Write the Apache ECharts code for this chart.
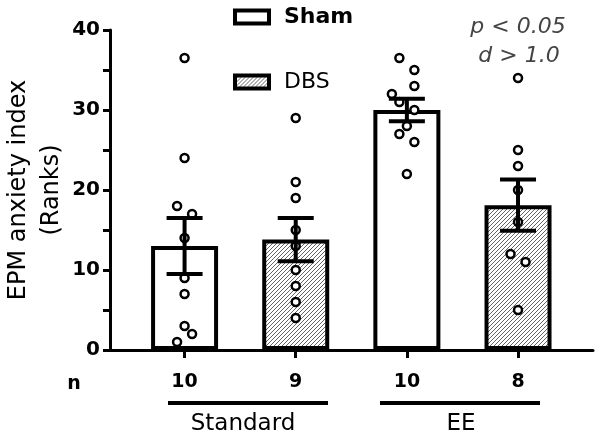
<!DOCTYPE html>
<html>
<head>
<meta charset="utf-8">
<script src="https://cdn.jsdelivr.net/npm/echarts@6/dist/echarts.min.js"></script>
<style>
    html, body { margin: 0; padding: 0; background: #fff; }
    #grafico { width: 600px; height: 439px; }
</style>
</head>
<body>
<div id="grafico"></div>
<script>
// Datos (rangos)
const grupos = ['Standard Sham', 'Standard DBS', 'EE Sham', 'EE DBS'];
const nCount = [10, 9, 10, 8];
const medias = [13.0, 13.8, 30.0, 18.1];
const errores = [3.5, 2.7, 1.4, 3.2];

const puntosStdSham = [36.5, 24, 18, 17, 14, 9, 7, 3, 2, 1];
const puntosStdDBS = [29, 21, 19, 15, 13, 10, 8, 6, 4];
const puntosEESham = [36.5, 35, 33, 32, 31, 30, 28, 27, 26, 22];
const puntosEEDBS = [34, 25, 23, 20, 16, 12, 11, 5];

// desplazamiento horizontal (px) de cada punto, como en el original
const jitterStdSham = [0, 0, -7.5, 7.5, 0, 0, 0, 0, 7.5, -7.5];
const jitterStdDBS = [0, 0, 0, 0, 0, 0, 0, 0, 0];
const jitterEESham = [-7.5, 7.5, 7.5, -15, -7.5, 7.5, 0, -7.5, 7.5, 0];
const jitterEEDBS = [0, 0, 0, 0, 0, -7.5, 7.5, 0];

const ticksY = [0, 10, 20, 30, 40];

const fuente = 'DejaVu Sans';

// Patron de rayas para DBS
function crearRayado() {
    const c = document.createElement('canvas');
    c.width = 4; c.height = 4;
    const ctx = c.getContext('2d');
    ctx.fillStyle = '#fff';
    ctx.fillRect(0, 0, 4, 4);
    ctx.strokeStyle = '#555';
    ctx.lineWidth = 0.9;
    ctx.beginPath();
    ctx.moveTo(-1, 5); ctx.lineTo(5, -1);
    ctx.moveTo(-1, 1); ctx.lineTo(1, -1);
    ctx.moveTo(3, 5); ctx.lineTo(5, 3);
    ctx.stroke();
    return c;
}
const rayado = { image: crearRayado(), repeat: 'repeat' };

const todosPuntos = [puntosStdSham, puntosStdDBS, puntosEESham, puntosEEDBS];
const todosJitter = [jitterStdSham, jitterStdDBS, jitterEESham, jitterEEDBS];
const datosPuntos = [];
todosPuntos.forEach((lista, g) => {
    lista.forEach((v, k) => {
        datosPuntos.push({ value: [g, v], symbolOffset: [todosJitter[g][k], 0] });
    });
});

const chart = echarts.init(document.getElementById('grafico'));
const bordeBarra = { borderColor: '#000', borderWidth: 4 };

const option = {
    animation: false,
    textStyle: { fontFamily: fuente },
    grid: [
        { left: 110, right: 7, top: 30, bottom: 89, outerBoundsMode: 'none', containLabel: false },
        { left: 129, right: 26.4, top: 30, bottom: 89, outerBoundsMode: 'none', containLabel: false }
    ],
    legend: {
        orient: 'vertical',
        left: 233,
        top: 6,
        padding: 0,
        icon: 'rect',
        itemWidth: 34,
        itemHeight: 13,
        itemGap: 43,
        itemStyle: { borderColor: '#000', borderWidth: 4 },
        textStyle: { fontFamily: fuente, fontSize: 22, color: '#000', padding: [0, 0, 0, 10] },
        data: [
            { name: 'Sham', textStyle: { fontWeight: 'bold' } },
            { name: 'DBS' }
        ]
    },
    xAxis: [
        {
            type: 'value', gridIndex: 0, min: 0, max: 1,
            axisLine: { show: true, lineStyle: { color: '#000', width: 3 } },
            axisTick: { show: false }, axisLabel: { show: false }, splitLine: { show: false }
        },
        {
            type: 'category', gridIndex: 1, data: grupos,
            axisLine: { show: false },
            axisTick: { show: true, alignWithLabel: true, length: 8, lineStyle: { color: '#000', width: 3 } },
            axisLabel: {
                margin: 23, fontSize: 19, fontWeight: 'bold', color: '#000', fontFamily: fuente,
                formatter: (v, i) => String(nCount[i])
            }
        }
    ],
    yAxis: [
        {
            type: 'value', gridIndex: 0, min: 0, max: 40, interval: 5,
            axisLine: { show: true, lineStyle: { color: '#000', width: 3 } },
            axisTick: { show: true, length: 7, lineStyle: { color: '#000', width: 3 } },
            axisLabel: {
                margin: 10, fontSize: 20, fontWeight: 'bold', color: '#000', fontFamily: fuente,
                formatter: v => ticksY.indexOf(v) > -1 ? String(v) : ''
            },
            splitLine: { show: false },
            name: 'EPM anxiety index\n(Ranks)',
            nameLocation: 'middle',
            nameRotate: 90,
            nameGap: 42,
            nameMoveOverlap: false,
            nameTextStyle: { fontSize: 24, lineHeight: 33, color: '#000', fontFamily: fuente }
        },
        { type: 'value', gridIndex: 1, min: 0, max: 40, show: false }
    ],
    series: [
        {
            name: 'Sham', type: 'bar', xAxisIndex: 1, yAxisIndex: 1,
            barWidth: 67, barGap: '-100%', z: 2,
            itemStyle: Object.assign({ color: '#fff' }, bordeBarra),
            data: [medias[0], '-', medias[2], '-']
        },
        {
            name: 'DBS', type: 'bar', xAxisIndex: 1, yAxisIndex: 1,
            barWidth: 67, barGap: '-100%', z: 2,
            itemStyle: Object.assign({ color: rayado }, bordeBarra),
            data: ['-', medias[1], '-', medias[3]]
        },
        {
            name: 'puntos', type: 'scatter', xAxisIndex: 1, yAxisIndex: 1, z: 3,
            symbol: 'circle', symbolSize: 8,
            itemStyle: { color: '#fff', borderColor: '#000', borderWidth: 2.5, opacity: 1 },
            data: datosPuntos
        },
        {
            name: 'sem', type: 'custom', xAxisIndex: 1, yAxisIndex: 1, z: 4,
            renderItem: function (params, api) {
                const x = api.value(0);
                const m = api.value(1);
                const e = api.value(2);
                const arriba = api.coord([x, m + e]);
                const abajo = api.coord([x, m - e]);
                const medio = 18;
                const estilo = { stroke: '#000', lineWidth: 4 };
                return {
                    type: 'group',
                    children: [
                        { type: 'line', shape: { x1: arriba[0], y1: arriba[1], x2: abajo[0], y2: abajo[1] }, style: estilo },
                        { type: 'line', shape: { x1: arriba[0] - medio, y1: arriba[1], x2: arriba[0] + medio, y2: arriba[1] }, style: estilo },
                        { type: 'line', shape: { x1: abajo[0] - medio, y1: abajo[1], x2: abajo[0] + medio, y2: abajo[1] }, style: estilo }
                    ]
                };
            },
            data: medias.map((m, i) => [i, m, errores[i]])
        }
    ],
    graphic: [
        { type: 'text', x: 74, y: 384, style: { text: 'n', font: 'bold 19px "DejaVu Sans"', fill: '#000', textAlign: 'center', textVerticalAlign: 'middle' } },
        { type: 'line', shape: { x1: 168, y1: 403, x2: 328, y2: 403 }, style: { stroke: '#000', lineWidth: 4 } },
        { type: 'line', shape: { x1: 380, y1: 403, x2: 540, y2: 403 }, style: { stroke: '#000', lineWidth: 4 } },
        { type: 'text', x: 243, y: 424, style: { text: 'Standard', font: '23px "DejaVu Sans"', fill: '#000', textAlign: 'center', textVerticalAlign: 'middle' } },
        { type: 'text', x: 461, y: 424, style: { text: 'EE', font: '23px "DejaVu Sans"', fill: '#000', textAlign: 'center', textVerticalAlign: 'middle' } },
        { type: 'text', x: 518, y: 27, style: { text: 'p < 0.05', font: 'italic 22px "DejaVu Sans"', fill: '#444', textAlign: 'center', textVerticalAlign: 'middle' } },
        { type: 'text', x: 519, y: 56, style: { text: 'd > 1.0', font: 'italic 22px "DejaVu Sans"', fill: '#444', textAlign: 'center', textVerticalAlign: 'middle' } }
    ]
};

chart.setOption(option);
</script>
</body>
</html>
